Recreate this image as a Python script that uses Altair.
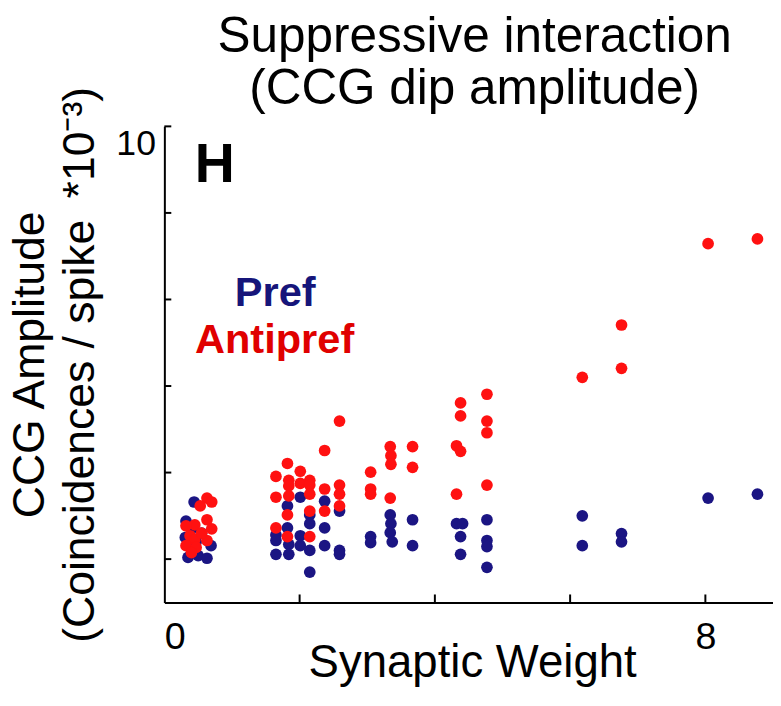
import altair as alt
import pandas as pd

# Pref (blue) points: synaptic weight, CCG amplitude (*1e-3)
pref_w = [0.44, 0.32, 0.31, 0.35, 0.50, 0.63, 0.69, 0.40, 0.47, 0.55,
          2.01, 2.37, 2.59, 1.82, 2.15, 2.15, 2.37, 1.82, 1.65, 1.65,
          1.84, 2.01, 2.01, 2.37, 1.65, 1.84, 2.15, 2.59, 2.59, 2.15,
          3.05, 3.05, 3.34, 3.35, 3.34, 3.37, 3.67, 3.67,
          4.32, 4.41, 4.38, 4.38, 4.77, 4.77, 4.77, 4.77,
          6.18, 6.18, 6.76, 6.76,
          8.04, 8.77]
pref_a = [1.32, 0.88, 0.50, 0.04, 0.08, 0.02, 0.31, 0.70, 0.40, 0.60,
          1.43, 1.34, 1.11, 1.23, 1.02, 0.82, 0.72, 0.72, 0.56, 0.43,
          0.34, 0.54, 0.31, 0.31, 0.11, 0.11, 0.20, 0.20, 0.11, -0.30,
          0.52, 0.38, 1.02, 0.82, 0.61, 0.40, 0.91, 0.31,
          0.82, 0.82, 0.52, 0.11, 0.91, 0.43, 0.29, -0.19,
          1.00, 0.31, 0.59, 0.40,
          1.41, 1.50]

# Antipref (red) points
anti_w = [0.63, 0.70, 0.53, 0.63, 0.70, 0.45, 0.32, 0.38, 0.45, 0.32, 0.47, 0.63, 0.55, 0.40,
          2.59, 2.37, 1.82, 2.01, 1.65, 1.84, 2.01, 2.15, 2.15, 1.84, 2.37, 2.59,
          2.59, 1.65, 1.84, 2.15, 2.59, 2.37, 2.15, 1.82, 1.65, 1.82, 2.15,
          3.05, 3.05, 3.05, 3.34, 3.35, 3.35, 3.34, 3.67, 3.67,
          4.38, 4.38, 4.32, 4.38, 4.32, 4.77, 4.77, 4.77, 4.77,
          6.18, 6.76, 6.76,
          8.04, 8.77]
anti_a = [1.41, 1.32, 1.23, 0.91, 0.70, 0.79, 0.77, 0.54, 0.45, 0.31, 0.27, 0.43, 0.60, 0.15,
          3.19, 2.51, 2.21, 2.03, 1.91, 1.82, 1.75, 1.82, 1.71, 1.69, 1.62, 1.71,
          1.50, 1.43, 1.46, 1.50, 1.23, 1.11, 1.11, 1.02, 0.72, 0.52, 0.52,
          2.01, 1.62, 1.50, 2.60, 2.39, 2.19, 1.41, 2.60, 2.12,
          3.61, 3.31, 2.62, 2.49, 1.50, 3.81, 3.19, 2.92, 1.71,
          4.20, 5.41, 4.41,
          7.29, 7.40]

x_tick_values = [2, 4, 6, 8]
y_tick_values = [0, 2, 4, 6, 8, 10]
x_label_values = [0, 8]
y_label_values = [10]

groups = ["Pref", "Antipref"]
colors = ["#1b1583", "#ff1111"]
text_colors = ["#16157a", "#e00000"]

FONT = "Liberation Sans"

df = pd.concat([
    pd.DataFrame({"w": pref_w, "a": pref_a, "g": "Pref"}),
    pd.DataFrame({"w": anti_w, "a": anti_a, "g": "Antipref"}),
], ignore_index=True)

xs = alt.Scale(domain=[0, 9], nice=False, zero=False)
ys = alt.Scale(domain=[-1, 10], nice=False, zero=False)

xaxis = alt.Axis(
    values=x_label_values, ticks=False, grid=False,
    domainColor="black", domainWidth=2,
    labelFont=FONT, labelFontSize=38, labelColor="black", labelPadding=17,
    title="Synaptic Weight", titleFont=FONT, titleFontSize=46,
    titleFontWeight="normal", titleColor="black",
    titleX=311, titleY=75, titleBaseline="alphabetic", titleAlign="center")

yaxis = alt.Axis(
    values=y_label_values, ticks=False, grid=False,
    domainColor="black", domainWidth=2,
    labelFont=FONT, labelFontSize=36, labelColor="black", labelPadding=9,
    labelOffset=17,
    title=["CCG Amplitude", "(Coincidences / spike \u2009*10\u207b\u00b3)"],
    titleFont=FONT, titleFontSize=45, titleFontWeight="normal",
    titleColor="black", titleX=-122, titleY=240.5,
    titleBaseline="alphabetic", titleAlign="center", titleLineHeight=50)


def X(field="w"):
    return alt.X(f"{field}:Q", scale=xs, axis=xaxis)


def Y(field="a"):
    return alt.Y(f"{field}:Q", scale=ys, axis=yaxis)


points = alt.Chart(df).mark_circle(size=140, opacity=1).encode(
    x=X(), y=Y(),
    color=alt.Color("g:N", scale=alt.Scale(domain=groups, range=colors), legend=None),
)

xticks = alt.Chart(pd.DataFrame({"w": x_tick_values})).mark_rule(
    color="black", strokeWidth=2).encode(
    x=X(), y=alt.value(481), y2=alt.value(473))

yticks = alt.Chart(pd.DataFrame({"a": y_tick_values})).mark_rule(
    color="black", strokeWidth=2).encode(
    y=Y(), x=alt.value(0), x2=alt.value(7))

panel = alt.Chart(pd.DataFrame({"w": [0.45], "a": [8.72], "t": ["H"]})).mark_text(
    align="left", baseline="alphabetic", font=FONT, fontSize=56,
    fontWeight="bold", color="black").encode(x=X(), y=Y(), text="t:N")

pref_lbl = alt.Chart(pd.DataFrame({"w": [1.64], "a": [5.85], "t": ["Pref"]})).mark_text(
    align="center", baseline="alphabetic", font=FONT, fontSize=42,
    fontWeight="bold", color=text_colors[0]).encode(x=X(), y=Y(), text="t:N")

anti_lbl = alt.Chart(pd.DataFrame({"w": [1.63], "a": [4.76], "t": ["Antipref"]})).mark_text(
    align="center", baseline="alphabetic", font=FONT, fontSize=42,
    fontWeight="bold", color=text_colors[1]).encode(x=X(), y=Y(), text="t:N")

chart = alt.layer(points, xticks, yticks, panel, pref_lbl, anti_lbl).properties(
    width=615, height=481,
    autosize=alt.AutoSizeParams(type="none"),
    padding={"left": 158, "top": 116, "right": 0, "bottom": 93},
    title=alt.TitleParams(
        text=["Suppressive interaction", "(CCG dip amplitude)"],
        font=FONT, fontSize=50, fontWeight="normal", color="black",
        anchor="middle", lineHeight=53, offset=8, dx=6, dy=36),
).configure_view(stroke=None)

chart.save("out.html", embed_options={"renderer": "svg", "actions": False})
